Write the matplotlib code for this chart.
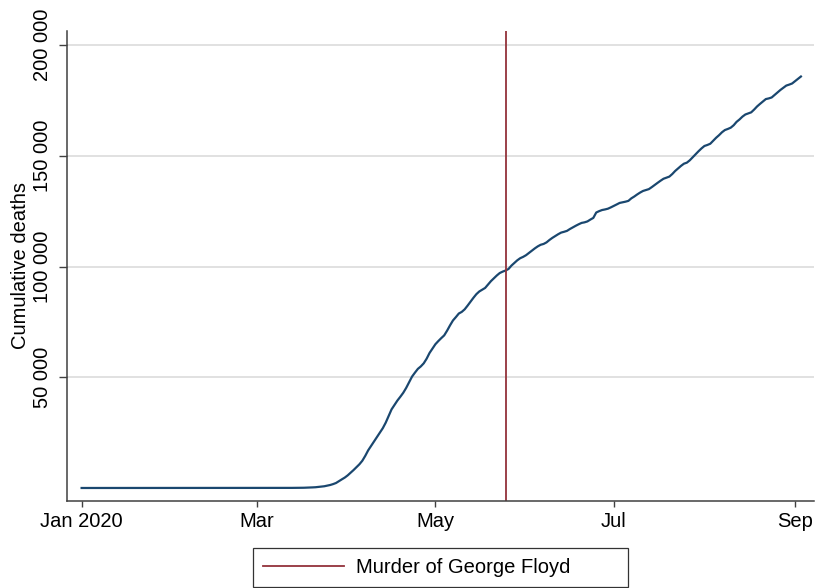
import numpy as np
import pandas as pd
import matplotlib
matplotlib.use("Agg")
import matplotlib.pyplot as plt
from matplotlib.ticker import FuncFormatter

plt.rcParams['font.family'] = ['Liberation Sans', 'DejaVu Sans']

# flat start (no deaths before March)
flat_dates = ["2020-01-01", "2020-02-29"]
flat_deaths = [0, 0]

# daily cumulative deaths from 1 March 2020
daily_start = "2020-03-01"
deaths_mar = [1, 6, 9, 11, 12, 14, 17, 21, 22, 28, 36, 40, 47, 54, 63, 85,
              108, 150, 210, 270, 340, 470, 600, 780, 1050, 1350, 1750, 2250,
              3100, 3900, 4700]
deaths_apr = [5700, 6900, 8100, 9400, 10700, 12300, 14500, 17000, 19000, 21000,
              23000, 25000, 27000, 29500, 32500, 35500, 37500, 39500, 41200,
              43000, 45200, 47800, 50300, 52100, 53800, 54900, 56300, 58400,
              61000, 63000]
deaths_may = [64943, 66369, 67682, 68922, 71064, 73455, 75662, 77180, 78795,
              79526, 80682, 82356, 84119, 85898, 87530, 88754, 89562, 90347,
              91921, 93439, 94702, 95979, 97087, 97720, 98220, 98916, 100442,
              101617, 102836, 103781, 104383]
deaths_jun = [105147, 106181, 107175, 108211, 109121, 109846, 110220, 110925,
              112014, 112967, 113813, 114625, 115347, 115708, 116128, 116963,
              117718, 118435, 119112, 119719, 119977, 120402, 121228, 121979,
              124415, 125039, 125539, 125803, 126140, 126739]
deaths_jul = [127425, 128062, 128740, 129000, 129306, 129676, 130813, 131633,
              132569, 133420, 134148, 134590, 134980, 135885, 136885, 137832,
              138779, 139659, 140133, 140630, 141790, 143187, 144305, 145479,
              146468, 146935, 148004, 149375, 150785, 152107, 153368]
deaths_aug = [154464, 154916, 155478, 156823, 158175, 159340, 160654, 161659,
              162155, 162730, 163829, 165362, 166444, 167714, 168692, 169150,
              169660, 170906, 172310, 173463, 174547, 175648, 175950, 176375,
              177518, 178670, 179780, 180739, 181749, 182184, 182693]
deaths_sep = [183738, 184786, 185838]

event_date = "2020-05-25"
event_label = "Murder of George Floyd"

xtick_dates = ["2020-01-01", "2020-03-01", "2020-05-01", "2020-07-01", "2020-09-01"]
xtick_labels = ["Jan 2020", "Mar", "May", "Jul", "Sep"]
ytick_values = [50000, 100000, 150000, 200000]

daily = deaths_mar + deaths_apr + deaths_may + deaths_jun + deaths_jul + deaths_aug + deaths_sep
dates = list(pd.to_datetime(flat_dates)) + list(pd.date_range(daily_start, periods=len(daily)))
deaths = flat_deaths + daily

navy = "#1a476f"
maroon = "#93323a"

fig = plt.figure(figsize=(8.18, 5.88), dpi=100)
ax = fig.add_axes([0.0819, 0.1485, 0.913, 0.7985])

ax.plot(dates, deaths, color=navy, lw=1.6, solid_joinstyle="round")
ax.axvline(pd.Timestamp(event_date), color=maroon, lw=1.3, label=event_label)

ax.set_xlim(pd.Timestamp("2019-12-27"), pd.Timestamp("2020-09-07 10:00"))
ax.set_ylim(-5734, 206320)

ax.set_xticks(pd.to_datetime(xtick_dates))
ax.set_xticklabels(xtick_labels)
ax.set_yticks(ytick_values)
ax.yaxis.set_major_formatter(FuncFormatter(lambda v, p: f"{int(v):,}".replace(",", " ")))

ax.grid(axis="y", color="#dcdcdc", lw=1.2)
ax.set_axisbelow(True)
for s in ["top", "right"]:
    ax.spines[s].set_visible(False)
for s in ["left", "bottom"]:
    ax.spines[s].set_color("#404040")
    ax.spines[s].set_linewidth(1.1)

ax.tick_params(axis="x", length=4.5, width=1, color="#404040", labelsize=14.5, pad=4)
ax.tick_params(axis="y", length=6, width=1, color="#404040", labelsize=14.5, pad=5,
               labelrotation=90)
for lbl in ax.get_yticklabels():
    lbl.set_va("center")

ax.set_ylabel("Cumulative deaths", fontsize=14.5, labelpad=2)

leg = fig.legend(loc="lower left", bbox_to_anchor=(253 / 818, 1 / 588, 375 / 818, 0.06),
                 mode="expand", borderaxespad=0, fontsize=14.5, frameon=True,
                 fancybox=False, edgecolor="black", handlelength=4.0,
                 handletextpad=0.6, borderpad=0.5)
leg.get_frame().set_linewidth(0.9)

fig.savefig("out.png", dpi=100)
